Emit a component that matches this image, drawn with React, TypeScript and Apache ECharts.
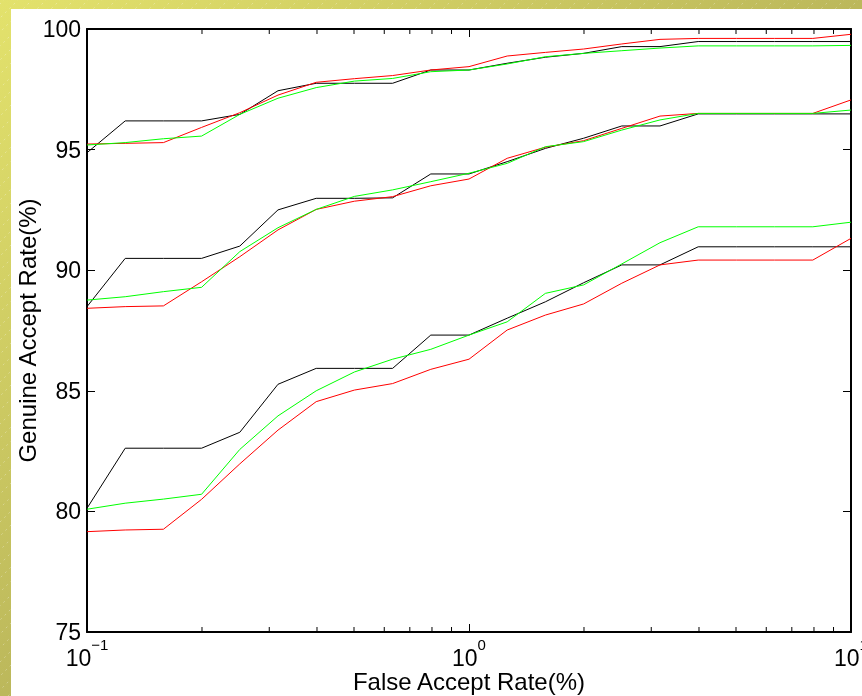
import React, { useEffect, useRef } from "react";
import * as echarts from "echarts";

// False accept rate (%) sample points (log-spaced)
const FAR = [0.1, 0.1259, 0.1585, 0.1995, 0.2512, 0.3162, 0.3981, 0.5012, 0.631, 0.7943, 1, 1.2589, 1.5849, 1.9953, 2.5119, 3.1623, 3.9811, 5.0119, 6.3096, 7.9433, 10];

// Genuine accept rate (%) curves
const blackTop = [94.87, 96.19, 96.19, 96.19, 96.46, 97.44, 97.75, 97.75, 97.75, 98.3, 98.3, 98.58, 98.83, 98.99, 99.27, 99.27, 99.48, 99.48, 99.48, 99.48, 99.48];
const redTop = [95.23, 95.26, 95.29, 95.92, 96.53, 97.26, 97.79, 97.94, 98.07, 98.3, 98.44, 98.88, 99.03, 99.17, 99.38, 99.57, 99.61, 99.61, 99.61, 99.61, 99.78];
const greenTop = [95.19, 95.29, 95.45, 95.56, 96.46, 97.13, 97.57, 97.84, 97.95, 98.23, 98.3, 98.55, 98.85, 98.99, 99.1, 99.21, 99.3, 99.3, 99.3, 99.3, 99.32];

const blackMid = [88.49, 90.49, 90.49, 90.49, 91.0, 92.5, 92.98, 92.98, 93.0, 93.99, 93.99, 94.5, 95.05, 95.47, 95.98, 95.98, 96.48, 96.48, 96.48, 96.48, 96.48];
const redMid = [88.42, 88.49, 88.52, 89.52, 90.56, 91.67, 92.52, 92.86, 93.05, 93.5, 93.78, 94.64, 95.1, 95.37, 95.88, 96.39, 96.5, 96.5, 96.5, 96.5, 97.06];
const greenMid = [88.76, 88.9, 89.11, 89.29, 90.77, 91.76, 92.52, 93.06, 93.33, 93.67, 94.02, 94.43, 95.12, 95.33, 95.81, 96.23, 96.5, 96.5, 96.5, 96.5, 96.64];

const blackBot = [80.13, 82.62, 82.62, 82.62, 83.28, 85.27, 85.93, 85.93, 85.93, 87.31, 87.31, 88.01, 88.69, 89.48, 90.22, 90.22, 90.97, 90.97, 90.97, 90.97, 90.97];
const redBot = [79.16, 79.23, 79.26, 80.5, 81.97, 83.37, 84.55, 85.03, 85.3, 85.89, 86.31, 87.52, 88.14, 88.6, 89.46, 90.22, 90.42, 90.42, 90.42, 90.42, 91.32];
const greenBot = [80.09, 80.34, 80.51, 80.71, 82.57, 83.96, 85.0, 85.78, 86.31, 86.72, 87.31, 87.86, 89.04, 89.39, 90.26, 91.14, 91.8, 91.8, 91.8, 91.8, 91.99];

// Axis settings
const X_MIN = 0.1;
const X_MAX = 10;
const Y_MIN = 75;
const Y_MAX = 100;
const Y_STEP = 5;
const X_MINOR_TICKS = [0.2, 0.3, 0.4, 0.5, 0.6, 0.7, 0.8, 0.9, 2, 3, 4, 5, 6, 7, 8, 9];
const X_EXPONENTS: Record<string, string> = { "0.1": "−1", "1": "0", "10": "1" };

const SERIES = [
  { name: "black-top", data: blackTop, color: "#000000" },
  { name: "red-top", data: redTop, color: "#ff0000" },
  { name: "green-top", data: greenTop, color: "#00ff00" },
  { name: "black-mid", data: blackMid, color: "#000000" },
  { name: "red-mid", data: redMid, color: "#ff0000" },
  { name: "green-mid", data: greenMid, color: "#00ff00" },
  { name: "black-bot", data: blackBot, color: "#000000" },
  { name: "red-bot", data: redBot, color: "#ff0000" },
  { name: "green-bot", data: greenBot, color: "#00ff00" },
];

const FONT = "'Liberation Sans', Arial, Helvetica, sans-serif";

export default function App() {
  const ref = useRef<HTMLDivElement>(null);

  useEffect(() => {
    document.body.style.margin = "0";
    const chart = echarts.init(ref.current!, null, { renderer: "svg", width: 862, height: 696 });

    const stripes: any[] = [];
    for (let x0 = -720; x0 < 880; x0 += 14) {
      stripes.push({
        type: "line",
        z: -9,
        silent: true,
        shape: { x1: x0, y1: 696, x2: x0 + 696, y2: 0 },
        style: { stroke: "rgba(255,255,255,0.3)", lineWidth: 1, lineDash: [2, 4] },
      });
    }

    const axisCommon = {
      axisLine: { show: true, lineStyle: { color: "#000", width: 2 } },
      splitLine: { show: false },
    };

    const option: any = {
      animation: false,
      graphic: {
        elements: [
          {
            type: "rect",
            z: -10,
            silent: true,
            shape: { x: 0, y: 0, width: 862, height: 696 },
            style: {
              fill: new echarts.graphic.LinearGradient(0, 0, 1, 1, [
                { offset: 0, color: "#e3e26c" },
                { offset: 0.5, color: "#bcb85b" },
                { offset: 1, color: "#a9a550" },
              ]),
            },
          },
          ...stripes,
          {
            type: "rect",
            z: -8,
            silent: true,
            shape: { x: 11, y: 9, width: 851, height: 687 },
            style: { fill: "#ffffff" },
          },
        ],
      },
      grid: { left: 87, top: 29, right: 11, bottom: 64, containLabel: false, outerBoundsMode: "none" },
      xAxis: [
        {
          type: "log",
          logBase: 10,
          min: X_MIN,
          max: X_MAX,
          position: "bottom",
          ...axisCommon,
          axisTick: { show: true, inside: true, length: 8, lineStyle: { color: "#000", width: 1 } },
          axisLabel: {
            show: true,
            margin: 5,
            showMinLabel: true,
            showMaxLabel: true,
            hideOverlap: false,
            formatter: (v: number) => `{b|10}{s|${X_EXPONENTS[String(v)] ?? ""}}`,
            rich: {
              b: { fontSize: 23, fontFamily: FONT, color: "#000", lineHeight: 32, verticalAlign: "bottom" },
              s: { fontSize: 15, fontFamily: FONT, color: "#000", lineHeight: 10, verticalAlign: "top" },
            },
          },
          name: "False Accept Rate(%)",
          nameLocation: "middle",
          nameGap: 37,
          nameMoveOverlap: false,
          nameTextStyle: { fontSize: 24, fontFamily: FONT, color: "#000" },
        },
        {
          type: "log",
          logBase: 10,
          min: X_MIN,
          max: X_MAX,
          position: "top",
          ...axisCommon,
          axisTick: { show: true, inside: true, length: 8, lineStyle: { color: "#000", width: 1 } },
          axisLabel: { show: false },
        },
      ],
      yAxis: [
        {
          type: "value",
          min: Y_MIN,
          max: Y_MAX,
          interval: Y_STEP,
          position: "left",
          ...axisCommon,
          axisTick: { show: true, inside: true, length: 8, lineStyle: { color: "#000", width: 1 } },
          axisLabel: { show: true, margin: 6, fontSize: 23, fontFamily: FONT, color: "#000" },
          name: "Genuine Accept Rate(%)",
          nameLocation: "middle",
          nameGap: 48,
          nameMoveOverlap: false,
          nameTextStyle: { fontSize: 24, fontFamily: FONT, color: "#000" },
        },
        {
          type: "value",
          min: Y_MIN,
          max: Y_MAX,
          interval: Y_STEP,
          position: "right",
          ...axisCommon,
          axisTick: { show: true, inside: true, length: 8, lineStyle: { color: "#000", width: 1 } },
          axisLabel: { show: false },
        },
      ],
      series: [
        ...SERIES.map((s) => ({
          type: "line",
          name: s.name,
          xAxisIndex: 0,
          yAxisIndex: 0,
          data: FAR.map((x, i) => [x, s.data[i]]),
          showSymbol: false,
          symbol: "none",
          lineStyle: { color: s.color, width: 1 },
          itemStyle: { color: s.color },
          silent: true,
          z: 3,
        })),
        {
          type: "custom",
          name: "minor-ticks",
          xAxisIndex: 0,
          yAxisIndex: 0,
          silent: true,
          clip: false,
          z: 4,
          data: X_MINOR_TICKS.map((v) => [v, Y_MIN]),
          encode: { x: 0, y: 1 },
          renderItem: (_params: any, api: any) => {
            const v = api.value(0);
            const b = api.coord([v, Y_MIN]);
            const t = api.coord([v, Y_MAX]);
            return {
              type: "group",
              children: [
                { type: "line", shape: { x1: b[0], y1: b[1], x2: b[0], y2: b[1] - 5 }, style: { stroke: "#000", lineWidth: 1 } },
                { type: "line", shape: { x1: t[0], y1: t[1], x2: t[0], y2: t[1] + 5 }, style: { stroke: "#000", lineWidth: 1 } },
              ],
            };
          },
        },
      ],
    };

    chart.setOption(option);
    return () => chart.dispose();
  }, []);

  return <div ref={ref} style={{ position: "fixed", left: 0, top: 0, width: 862, height: 696 }} />;
}
